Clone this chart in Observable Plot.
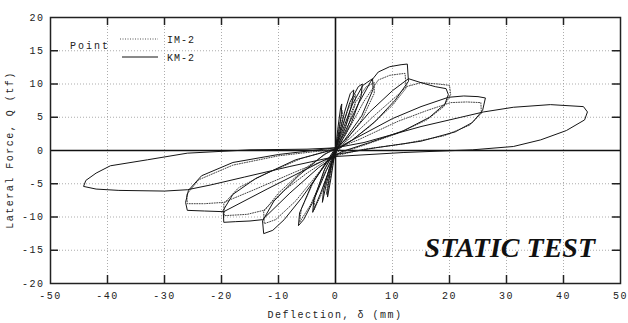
<!DOCTYPE html>
<html><head><meta charset="utf-8">
<script src="https://cdn.jsdelivr.net/npm/d3@7"></script>
<script src="https://cdn.jsdelivr.net/npm/@observablehq/plot@0.6"></script>
<style>
html,body{margin:0;padding:0;background:#fff;}
#chart{position:relative;width:628px;height:323px;}
</style></head>
<body><div id="chart"></div>
<script>
// KM-2 (solid) deflection (mm) and lateral force (tf)
const kmD = [0,0.4,0.9,1.1,1.0,0.4,-0.2,-0.8,-1.4,-1.3,-0.6,0,
 0.6,1.6,2.6,3.2,3.0,1.8,0.5,-0.6,-1.6,-2.3,-2.1,-1.0,0,
 0.8,2.5,4.0,4.7,4.5,2.8,0.6,-0.8,-2.6,-4.0,-3.8,-2.0,0,
 1.0,3.0,4.8,6.5,6.6,4.6,1.6,0,-1.6,-4.0,-5.6,-6.5,-6.3,-4.2,-1.2,0,
 1.5,4.0,6.2,7.5,9.5,11.5,12.6,12.8,10.5,7.0,3.0,0,-2.5,-6.0,-9.0,-11.0,-12.6,-12.8,-10.8,-6.5,-2.0,0,
 2.0,6.0,10.0,12.8,15.0,17.5,19.4,19.8,19.2,16.5,12.0,6.0,1.0,-3.0,-8.0,-12.8,-15.0,-17.5,-19.6,-19.7,-18.0,-14.0,-7.0,0,
 3.0,10.0,15.0,19.8,22.5,25.0,26.3,25.8,24.0,21.0,15.0,7.0,0,-6.0,-12.0,-19.6,-23.0,-26.0,-26.3,-25.8,-23.5,-18.0,-10.0,0,
 5.0,15.0,22.0,26.0,31.2,37.7,43.5,44.2,43.7,40.5,36.0,31.2,24.0,12.0,0,-8.0,-16.0,-22.0,-26.0,-30.0,-38.0,-42.0,-44.2,-43.8,-42.0,-39.5,-33.0,-26.0,-15.0,-5.0,0];
const kmQ = [0,3.2,6.5,7.0,5.2,1.8,-0.8,-4.2,-7.0,-5.2,-1.8,0.3,
 2.2,5.8,8.6,9.1,7.4,3.6,0.8,-1.8,-5.0,-7.8,-6.0,-2.4,0.2,
 2.5,7.2,9.6,10.0,8.2,4.2,0.6,-2.2,-6.4,-9.3,-7.4,-3.0,0.2,
 2.5,7.0,9.8,10.8,9.2,5.2,1.6,0,-3.0,-7.8,-10.4,-11.3,-9.4,-5.2,-1.2,0.4,
 2.5,7.0,10.4,11.8,12.6,12.9,13.0,10.4,7.6,4.4,1.6,0,-3.0,-7.2,-10.4,-12.0,-12.5,-10.6,-7.6,-3.8,-0.6,0.3,
 1.8,5.8,9.0,10.8,10.2,9.6,9.3,8.4,7.0,5.0,3.0,1.2,-0.2,-2.6,-6.4,-10.4,-10.6,-10.7,-10.8,-9.0,-6.6,-4.2,-1.4,0.2,
 1.6,4.8,6.6,8.0,8.2,8.1,7.9,6.0,4.2,2.8,1.4,0.4,-0.6,-3.2,-5.8,-9.2,-9.1,-9.0,-7.8,-6.0,-3.8,-1.8,-0.6,0.4,
 1.2,3.6,5.0,5.8,6.5,6.9,6.6,5.8,4.6,3.0,1.6,0.6,0.1,-0.3,-0.9,-2.4,-4.0,-5.2,-5.9,-6.1,-6.0,-5.8,-5.4,-4.5,-3.4,-2.3,-1.4,-0.4,0.1,0.2,0.4];
// IM-2 (dotted)
const imD = [0,0.5,1.2,1.2,0.4,-0.3,-1.0,-1.6,-1.4,-0.5,0,
 0.8,2.2,3.5,3.4,2.0,0.4,-1.0,-2.6,-3.8,-3.6,-1.8,0,
 1.2,3.5,5.4,6.8,6.8,4.6,1.4,-1.8,-4.4,-6.3,-6.0,-3.6,0,
 1.8,5.0,7.5,9.5,11.2,12.2,12.4,10.0,6.0,2.0,0,-3.0,-7.0,-10.5,-12.5,-12.6,-10.0,-5.5,-1.5,0,
 2.5,7.0,11.0,12.4,15.0,18.0,20.0,20.2,19.0,16.0,11.0,5.0,0,-5.0,-9.0,-12.6,-15.5,-19.5,-19.6,-17.0,-12.0,-6.0,0,
 4.0,11.0,16.0,20.2,23.0,25.5,25.6,23.5,19.0,12.0,5.0,0,-7.0,-14.0,-19.6,-23.0,-26.0,-26.1,-24.0,-18.0,-10.0,0];
const imQ = [0,3.0,6.0,4.8,1.4,-1.2,-4.6,-6.6,-5.0,-1.4,0.2,
 2.4,6.2,8.4,6.8,3.2,0.4,-2.6,-6.8,-9.0,-7.0,-2.6,0.2,
 2.6,7.2,9.6,10.2,8.6,4.6,1.0,-3.2,-8.2,-10.8,-8.8,-4.2,0.2,
 2.4,7.4,10.6,11.3,11.5,11.6,9.4,6.8,3.6,1.0,0,-3.4,-7.6,-10.4,-11.0,-9.2,-6.4,-2.8,-0.4,0.2,
 1.8,5.4,8.4,9.6,10.2,10.0,9.8,8.4,6.6,4.6,2.6,0.8,-0.6,-3.4,-6.0,-9.0,-9.6,-9.8,-8.0,-5.6,-3.4,-1.2,0.3,
 1.6,4.4,6.0,7.2,7.3,7.2,5.6,3.8,2.2,1.0,0.2,-0.8,-3.2,-5.8,-7.8,-8.0,-8.0,-6.6,-4.4,-2.2,-0.8,0.2];

const xTicks = [-50,-40,-30,-20,-10,0,10,20,30,40,50];
const yTicks = [-20,-15,-10,-5,0,5,10,15,20];
const xInner = [-40,-30,-20,-10,10,20,30,40];
const yInner = [-15,-10,-5,5,10,15];
const seriesNames = ["IM-2","KM-2"];

const font = "'Liberation Mono', monospace";
const plot = Plot.plot({
  width: 628, height: 323,
  marginLeft: 50, marginRight: 8, marginTop: 17, marginBottom: 40,
  style: {background: "#fff", color: "#222", fontFamily: font},
  x: {domain: [-50, 50]},
  y: {domain: [-20, 20]},
  marks: [
    Plot.gridX(xInner, {stroke: "#999", strokeOpacity: 0.8, strokeDasharray: "1,2"}),
    Plot.gridY(yInner, {stroke: "#999", strokeOpacity: 0.8, strokeDasharray: "1,2"}),
    Plot.ruleX(xInner, {y1: 20, y2: 18.8, stroke: "#222", strokeWidth: 1.5}),
    Plot.ruleX(xInner, {y1: -20, y2: -18.8, stroke: "#222", strokeWidth: 1.5}),
    Plot.ruleY(yInner, {x1: -50, x2: -48.6, stroke: "#222", strokeWidth: 1.5}),
    Plot.ruleY(yInner, {x1: 50, x2: 48.6, stroke: "#222", strokeWidth: 1.5}),
    Plot.ruleY([0], {stroke: "#111", strokeWidth: 1.6}),
    Plot.ruleX([0], {stroke: "#111", strokeWidth: 1.6}),
    Plot.line(imD, {x: imD, y: imQ, stroke: "#444", strokeWidth: 1, strokeDasharray: "1,1.5"}),
    Plot.line(kmD, {x: kmD, y: kmQ, stroke: "#151515", strokeWidth: 1}),
    Plot.frame({stroke: "#222", strokeWidth: 1.5}),
    Plot.axisX(xTicks, {tickSize: 0, tickPadding: 8, fontSize: 10, tickFormat: d => String(d), label: null}),
    Plot.axisY(yTicks, {tickSize: 0, tickPadding: 6, fontSize: 10, tickFormat: d => String(d), label: null})
  ]
});
const svg = d3.select(plot);
svg.selectAll("g[aria-label='x-axis tick label'] text, g[aria-label='y-axis tick label'] text").style("letter-spacing", "1.5px");
// axis titles
svg.append("text").attr("x", 335).attr("y", 318).attr("text-anchor", "middle")
  .attr("font-size", 10).attr("letter-spacing", "1.5px").attr("fill", "#222").text("Deflection, δ (mm)");
svg.append("text").attr("transform", "translate(13,150) rotate(-90)").attr("text-anchor", "middle")
  .attr("font-size", 10).attr("letter-spacing", "1.5px").attr("fill", "#222").text("Lateral Force, Q (tf)");
// legend
svg.append("text").attr("x", 70).attr("y", 49).attr("text-anchor", "start").attr("font-size", 10).attr("letter-spacing", "2px").attr("fill", "#222").text("Point");
svg.append("line").attr("x1", 120).attr("x2", 158).attr("y1", 39).attr("y2", 39).attr("stroke", "#555").attr("stroke-dasharray", "1,1.5");
svg.append("line").attr("x1", 122).attr("x2", 158).attr("y1", 57).attr("y2", 57).attr("stroke", "#151515");
svg.append("text").attr("x", 167).attr("y", 43).attr("text-anchor", "start").attr("font-size", 10).attr("letter-spacing", "1px").attr("fill", "#222").text(seriesNames[0]);
svg.append("text").attr("x", 167).attr("y", 61).attr("text-anchor", "start").attr("font-size", 10).attr("letter-spacing", "1px").attr("fill", "#222").text(seriesNames[1]);
// title inside plot
svg.append("text").attr("x", 595).attr("y", 257).attr("text-anchor", "end")
  .attr("font-family", "'Liberation Serif', serif").attr("font-style", "italic").attr("font-weight", "bold")
  .attr("font-size", 28).attr("fill", "#111").text("STATIC TEST");
document.getElementById("chart").appendChild(plot);
</script></body></html>
